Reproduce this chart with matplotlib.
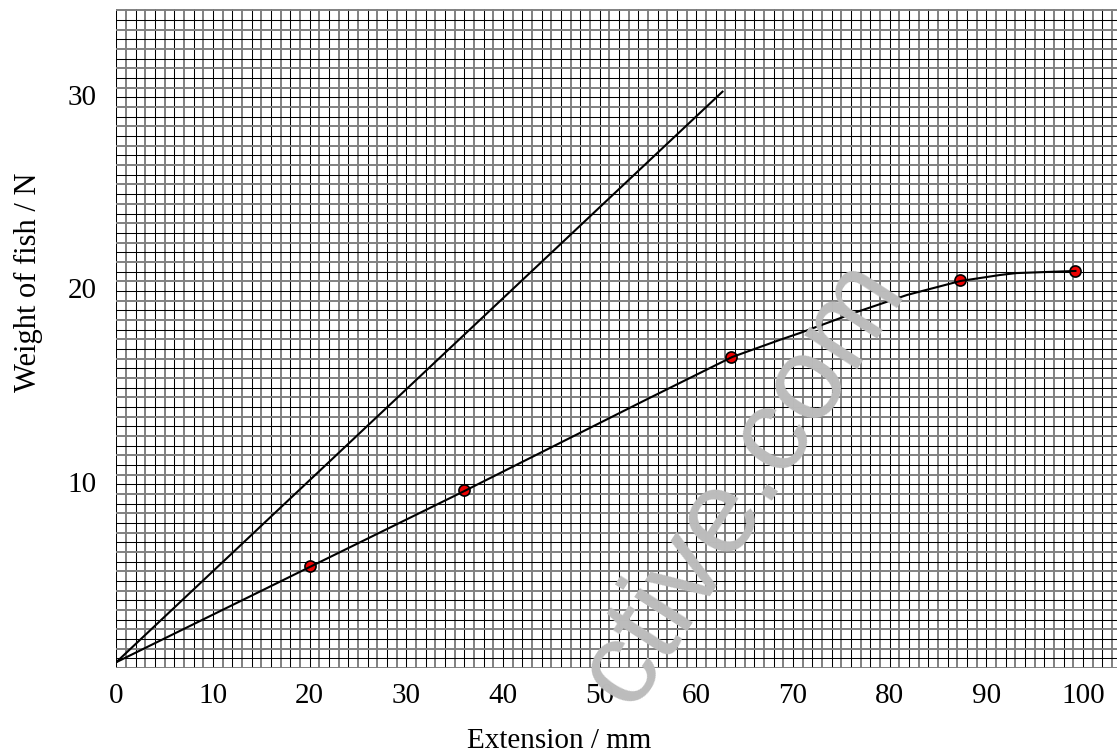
import numpy as np
import matplotlib
matplotlib.use("Agg")
from matplotlib import pyplot as plt
from matplotlib.transforms import ScaledTranslation

# measured points (extension mm, weight N)
ext_pts = [20.0, 36.0, 63.6, 87.3, 99.2]
weight_pts = [5.25, 9.2, 16.1, 20.05, 20.55]

# hand-drawn best-fit curve through the points
curve_x = [0.0, 20.0, 36.0, 39.7, 54.9, 63.7, 68.6, 70.7, 76.6, 81.8, 87.3, 91.4, 93.1, 99.2]
curve_y = [0.3, 5.22, 9.15, 10.08, 13.9, 16.08, 16.96, 17.32, 18.41, 19.29, 20.01, 20.32, 20.42, 20.53]

# straight line from the origin
line_x = [0.0, 62.7]
line_y = [0.3, 29.8]

x_ticks = [0, 10, 20, 30, 40, 50, 60, 70, 80, 90, 100]
y_ticks = [10, 20, 30]

serif = ['Liberation Serif', 'DejaVu Serif']

fig = plt.figure(figsize=(11.17, 7.56), dpi=100)
ax = fig.add_axes([0.1041, 0.1164, 0.8959, 0.8716])
xmax, ymax = 103.5, 34.07
ax.set_xlim(0, xmax)
ax.set_ylim(0, ymax)

# graph paper: 1 mm squares in x, 0.5 N squares in y
for i, gx in enumerate(np.arange(0, xmax, 1.0)):
    if i % 2 == 0:
        ax.axvline(gx, color='black', lw=0.75, zorder=1)
    else:
        ax.axvline(gx, color='#808080', lw=1.4, zorder=1)
for i, gy in enumerate(np.arange(0, ymax, 0.5)):
    if i % 2 == 0:
        ax.axhline(gy, color='#808080', lw=1.4, zorder=1)
    else:
        ax.axhline(gy, color='black', lw=0.75, zorder=1)

# watermark
fig.text(0.665, 0.362, 'ctive.com', fontsize=86, rotation=57, color='#bcbcbc',
         family=['Liberation Sans', 'DejaVu Sans'], ha='center', va='center', zorder=2)

ax.plot(line_x, line_y, color='black', lw=1.5, zorder=4)
ax.plot(ext_pts, weight_pts, 'o', ms=8, mfc='#ee0000', mec='black', mew=1.2, zorder=3)
ax.plot(curve_x, curve_y, color='black', lw=1.5, zorder=4)

for s in ax.spines.values():
    s.set_visible(False)

ax.set_xticks(x_ticks)
ax.set_yticks(y_ticks)
ax.tick_params(length=0, labelsize=21)
ax.tick_params(axis='x', pad=11)
ax.tick_params(axis='y', pad=14)
for lab in ax.get_xticklabels() + ax.get_yticklabels():
    lab.set_family(serif)
offset = ScaledTranslation(0, -0.07, fig.dpi_scale_trans)
for lab in ax.get_yticklabels():
    lab.set_transform(lab.get_transform() + offset)

fig.text(0.0255, 0.626, 'Weight of fish / N', rotation=90, fontsize=22,
         family=serif, ha='center', va='center')
fig.text(0.501, 0.02, 'Extension / mm', fontsize=21, family=serif,
         ha='center', va='center')

fig.savefig('out.png', dpi=100)
